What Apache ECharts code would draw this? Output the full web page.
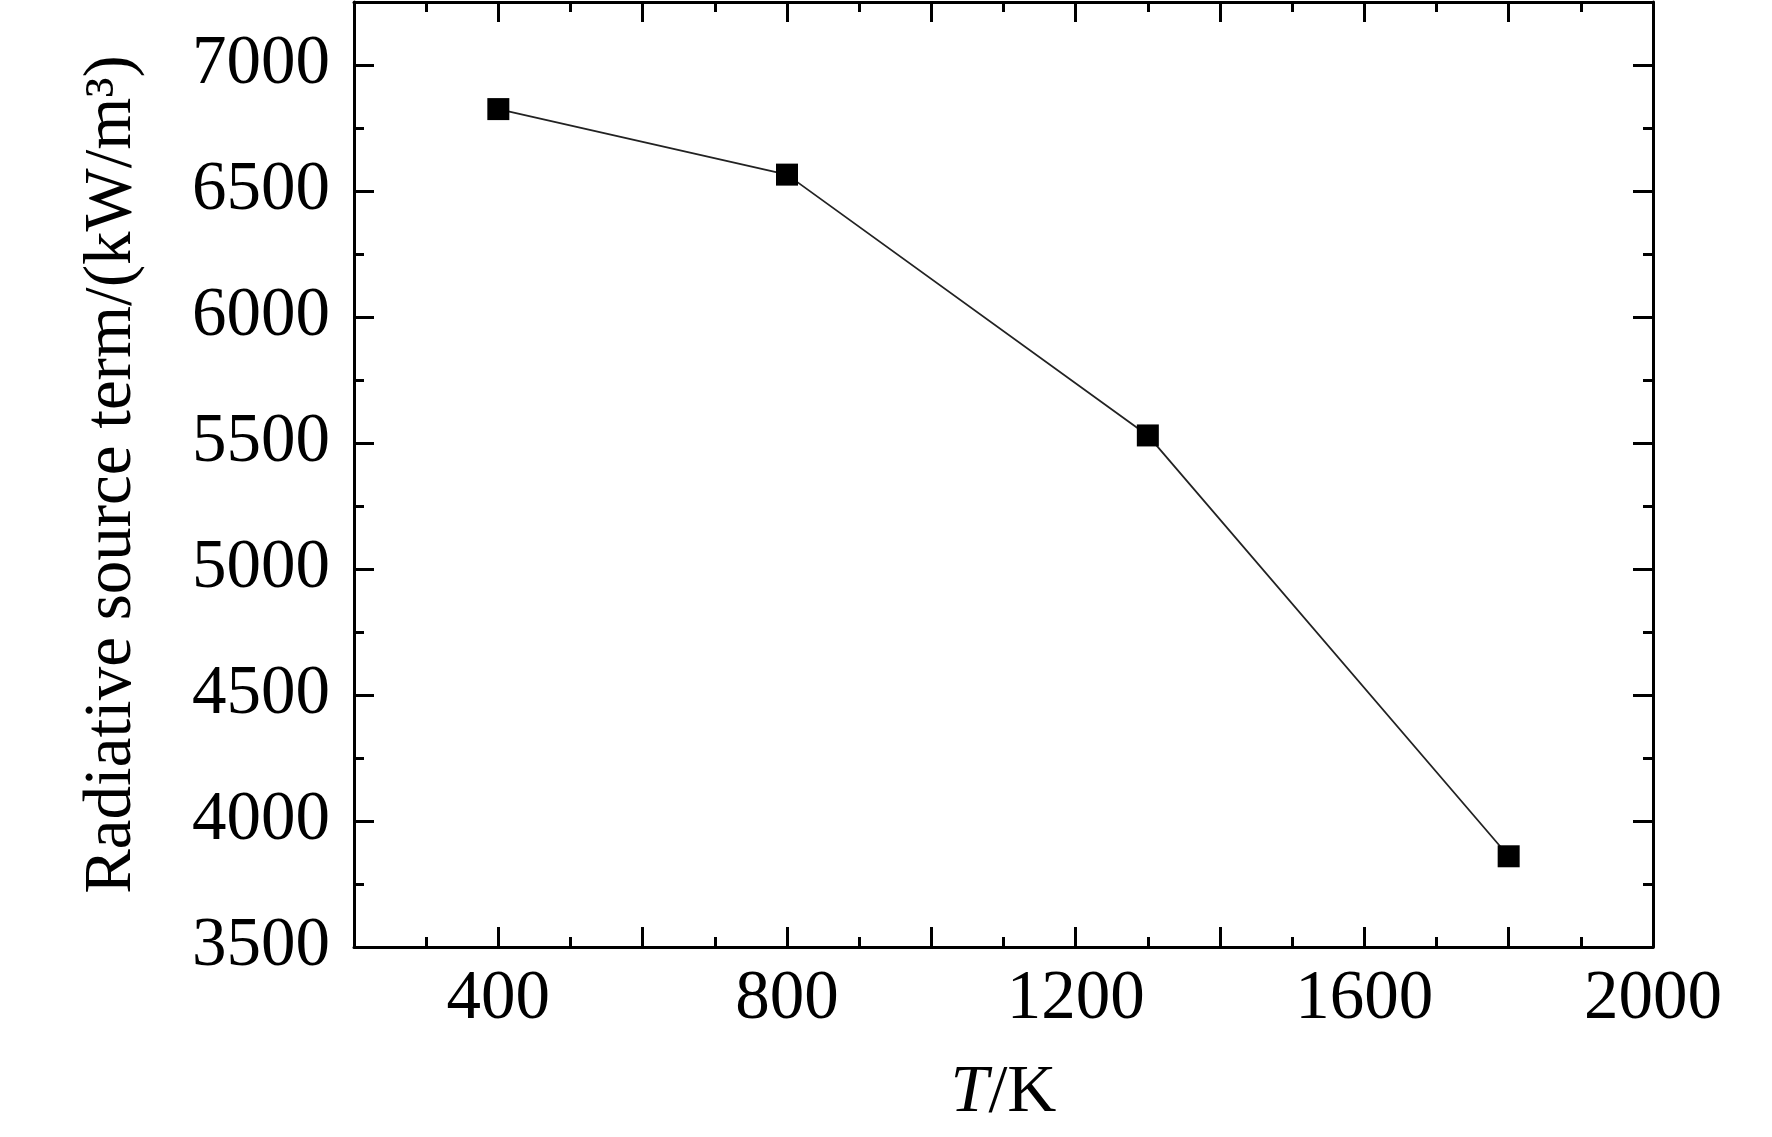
<!DOCTYPE html>
<html>
<head>
<meta charset="utf-8">
<script src="https://cdn.jsdelivr.net/npm/echarts@6/dist/echarts.min.js"></script>
<style>
html,body{margin:0;padding:0;background:#fff;}
#chart{width:1772px;height:1137px;}
</style>
</head>
<body>
<div id="chart"></div>
<script>
const temperatures = [400, 800, 1300, 1800];
const sourceTerm = [6825, 6565, 5530, 3860];
const xLabelValues = [400, 800, 1200, 1600, 2000];
const yLabelValues = [3500, 4000, 4500, 5000, 5500, 6000, 6500, 7000];

const FONT = 'Liberation Serif';
const gridRect = {left: 354, right: 119, top: 2, bottom: 190};
const lineStyle = {color: '#000', width: 3};

function majorX(position, showLabel) {
  return {
    type: 'value', gridIndex: 0, position: position,
    min: 200, max: 2000, interval: 200,
    axisLine: {show: true, onZero: false, lineStyle: lineStyle},
    axisTick: {show: true, inside: true, length: 20, lineStyle: {width: 3, color: '#000'}},
    minorTick: {show: true, splitNumber: 2, length: 10, lineStyle: {width: 3, color: '#000'}},
    splitLine: {show: false}, minorSplitLine: {show: false},
    axisLabel: {
      show: showLabel, margin: 18, color: '#000', fontFamily: FONT, fontSize: 69,
      formatter: v => xLabelValues.includes(v) ? String(v) : ''
    },
    name: showLabel ? '{i|T}/K' : '',
    nameLocation: 'middle', nameGap: 112,
    nameTextStyle: {
      color: '#000', fontFamily: FONT, fontSize: 68,
      rich: {i: {fontStyle: 'italic', fontFamily: FONT, fontSize: 68, color: '#000'}}
    }
  };
}
function majorY(position, showLabel) {
  return {
    type: 'value', gridIndex: 0, position: position,
    min: 3500, max: 7250, interval: 500,
    axisLine: {show: true, onZero: false, lineStyle: lineStyle},
    axisTick: {show: true, inside: true, length: 20, lineStyle: {width: 3, color: '#000'}},
    splitLine: {show: false},
    axisLabel: {
      show: showLabel, margin: 24, color: '#000', fontFamily: FONT, fontSize: 69,
      formatter: v => yLabelValues.includes(v) ? String(v) : ''
    },
    name: showLabel ? 'Radiative source term/(kW/m³)' : '',
    nameLocation: 'middle', nameGap: 208,
    nameTextStyle: {color: '#000', fontFamily: FONT, fontSize: 67}
  };
}
function minorY(position) {
  return {
    type: 'value', gridIndex: 1, position: position,
    min: 3500, max: 7250, interval: 250,
    axisLine: {show: false, onZero: false},
    axisTick: {show: true, inside: true, length: 10, lineStyle: {width: 3, color: '#000'}},
    splitLine: {show: false},
    axisLabel: {show: false}
  };
}

const chart = echarts.init(document.getElementById('chart'));
chart.setOption({
  animation: false,
  backgroundColor: '#fff',
  grid: [
    Object.assign({containLabel: false, outerBoundsMode: 'none'}, gridRect),
    Object.assign({containLabel: false, outerBoundsMode: 'none'}, gridRect)
  ],
  xAxis: [
    majorX('bottom', true),
    majorX('top', false),
    {type: 'value', gridIndex: 1, show: false, min: 200, max: 2000}
  ],
  yAxis: [
    majorY('left', true),
    majorY('right', false),
    minorY('left'),
    minorY('right')
  ],
  series: [{
    type: 'line',
    xAxisIndex: 0, yAxisIndex: 0,
    data: temperatures.map((t, i) => [t, sourceTerm[i]]),
    symbol: 'rect', symbolSize: 22,
    itemStyle: {color: '#000'},
    lineStyle: {color: '#222', width: 1.8}
  }]
});
</script>
</body>
</html>
